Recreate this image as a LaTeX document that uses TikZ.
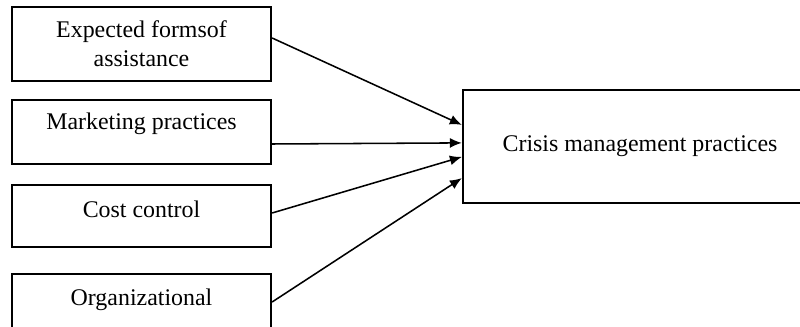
\documentclass[tikz,border=0pt]{standalone}
\usepackage{fontspec}
\setmainfont{Liberation Serif}
\usepackage{tikz}
\usetikzlibrary{arrows.meta}

\begin{document}
\begin{tikzpicture}[
  >={Latex[length=3mm,width=2.5mm]},
  factor/.style={rectangle,draw=black,line width=1.6pt,minimum width=6.475cm,align=center,
    font=\fontsize{17}{20.5}\selectfont,inner sep=0pt},
  outcome/.style={rectangle,draw=black,line width=1.6pt,minimum width=8.85cm,minimum height=2.825cm,
    font=\fontsize{17}{20.5}\selectfont,inner sep=0pt},
  link/.style={->,line width=1.1pt}
]

\useasboundingbox (0,0) rectangle (20,8.175);
\clip (0,0) rectangle (20,8.175);

% left column
\node[factor,minimum height=1.85cm] (assist) at (3.5375,7.075) {Expected formsof\\assistance};
\node[factor,minimum height=1.6cm,text depth=0.55cm] (market) at (3.5375,4.875) {Marketing practices};
\node[factor,minimum height=1.55cm,text depth=0.35cm] (cost) at (3.5375,2.775) {Cost control};
\node[factor,minimum height=1.55cm,text depth=0.4cm] (organ) at (3.5375,0.55) {Organizational};

% right box
\node[outcome] (crisis) at (16.0,4.5125) {Crisis management practices};

\draw[link] ([yshift=0.15cm]assist.east) -- ([yshift=0.54cm]crisis.west);
\draw[link] ([yshift=-0.3cm]market.east) -- ([yshift=0.09cm]crisis.west);
\draw[link] ([yshift=0.075cm]cost.east) -- ([yshift=-0.26cm]crisis.west);
\draw[link] ([yshift=0.075cm]organ.east) -- ([yshift=-0.79cm]crisis.west);

\end{tikzpicture}
\end{document}
